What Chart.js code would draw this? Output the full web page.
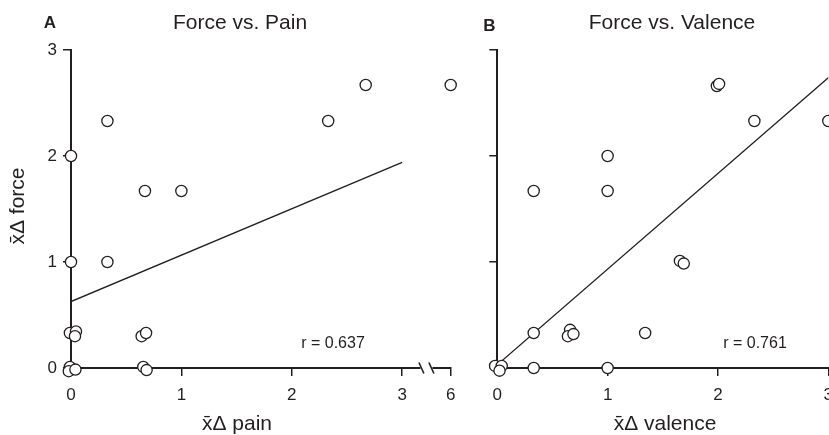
<!DOCTYPE html>
<html>
<head>
<meta charset="utf-8">
<script src="https://cdn.jsdelivr.net/npm/chart.js@4/dist/chart.umd.min.js"></script>
<style>
  html, body { margin: 0; padding: 0; background: #fff; overflow: hidden; width: 829px; height: 435px; }
  #painChart { position: absolute; left: 0; top: 0; }
  #valenceChart { position: absolute; left: 470px; top: 0; }
</style>
</head>
<body>
<canvas id="painChart" width="470" height="435"></canvas>
<canvas id="valenceChart" width="400" height="435"></canvas>
<script>
// Panel A: mean change in pain vs mean change in force (one point per subject)
const painX      = [2.67, 6,    2.33, 0.33, 0, 0.67, 1,    0, 0.33, -0.01, 0.045, 0.036, 0.64, 0.68, -0.01, -0.02, 0.04,  0.655, 0.685];
const painForceY = [2.67, 2.67, 2.33, 2.33, 2, 1.67, 1.67, 1, 1,    0.33,  0.345, 0.30,  0.30, 0.33, 0.01,  -0.03, -0.015, 0.01, -0.02];
const painFitX = [0, 3];
const painFitY = [0.627, 1.94];
const painTickValues = [0, 1, 2, 3, 6];
const painR = 'r = 0.637';

// Panel B: mean change in valence vs mean change in force
const valenceX      = [1.99, 2.01, 2.33, 3,    1, 0.33, 1,    1.655, 1.69,  0.33, 0.66, 0.64, 0.69, 1.34, -0.02, 0.04, 0.02,  0.33, 1];
const valenceForceY = [2.66, 2.68, 2.33, 2.33, 2, 1.67, 1.67, 1.01,  0.985, 0.33, 0.36, 0.30, 0.32, 0.33, 0.02,  0.02, -0.025, 0,   0];
const valenceFitX = [0, 3.2];
const valenceFitY = [0.03, 2.92];
const valenceTickValues = [0, 1, 2, 3];
const valenceR = 'r = 0.761';

const forceTicks = [0, 1, 2, 3];

const INK = '#231f20';
Chart.defaults.font.family = '"Liberation Sans", Arial, Helvetica, sans-serif';
Chart.defaults.color = INK;

// x axis of panel A is broken after 3; the value 6 sits just past the break
const BREAK_AT = 3;
const BREAK_END = 3.44;
function brokenX(v) {
    return v <= BREAK_AT ? v : BREAK_AT + (v - BREAK_AT) * (BREAK_END - BREAK_AT) / 3;
}

function points(xs, ys, mapX) {
    return xs.map((x, i) => ({ x: mapX ? mapX(x) : x, y: ys[i] }));
}

function pointSet(data) {
    return {
        data: data,
        pointRadius: 5.6,
        pointHoverRadius: 5.6,
        pointBorderWidth: 1.3,
        pointBorderColor: INK,
        pointBackgroundColor: '#fff',
        showLine: false,
        clip: false,
        order: 1
    };
}

function fitSet(data) {
    return {
        data: data,
        showLine: true,
        pointRadius: 0,
        borderColor: INK,
        borderWidth: 1.3,
        fill: false,
        order: 2
    };
}

function axis(extra) {
    return Object.assign({
        type: 'linear',
        grid: { drawOnChartArea: false, drawTicks: true, tickLength: 8, color: INK, lineWidth: 1.5 },
        border: { display: true, color: INK, width: 2 }
    }, extra);
}

// letters, titles, axis titles and r values
function labels(cfg) {
    return {
        id: 'labels',
        afterDraw(chart) {
            const ctx = chart.ctx;
            ctx.save();
            ctx.fillStyle = INK;
            ctx.textAlign = 'center';
            ctx.textBaseline = 'middle';
            ctx.font = 'bold 17px "Liberation Sans", Arial, sans-serif';
            ctx.fillText(cfg.letter[0], cfg.letter[1], cfg.letter[2]);
            ctx.font = '21px "Liberation Sans", Arial, sans-serif';
            ctx.fillText(cfg.title[0], cfg.title[1], cfg.title[2]);
            ctx.fillText(cfg.xTitle[0], cfg.xTitle[1], cfg.xTitle[2]);
            if (cfg.yTitle) {
                ctx.save();
                ctx.translate(cfg.yTitle[1], cfg.yTitle[2]);
                ctx.rotate(-Math.PI / 2);
                ctx.fillText(cfg.yTitle[0], 0, 0);
                ctx.restore();
            }
            ctx.font = '16px "Liberation Sans", Arial, sans-serif';
            ctx.fillText(cfg.r[0], cfg.r[1], cfg.r[2]);

            if (cfg.axisBreak) {
                const xs = chart.scales.x;
                const y0 = chart.scales.y.getPixelForValue(0);
                const mid = (xs.getPixelForValue(BREAK_AT) + xs.getPixelForValue(BREAK_END)) / 2;
                ctx.fillStyle = '#fff';
                ctx.fillRect(mid - 6, y0 - 3, 12, 6);
                ctx.strokeStyle = INK;
                ctx.lineWidth = 1.6;
                [-5, 5].forEach(dx => {
                    ctx.beginPath();
                    ctx.moveTo(mid + dx - 2.5, y0 - 5.5);
                    ctx.lineTo(mid + dx + 2.5, y0 + 5.5);
                    ctx.stroke();
                });
            }
            ctx.restore();
        }
    };
}

new Chart(document.getElementById('painChart'), {
    type: 'scatter',
    data: {
        datasets: [
            pointSet(points(painX, painForceY, brokenX)),
            fitSet(points(painFitX, painFitY))
        ]
    },
    options: {
        responsive: false,
        animation: false,
        layout: { padding: { left: 0, right: 19.3, top: 50, bottom: 0 } },
        plugins: { legend: { display: false }, tooltip: { enabled: false } },
        scales: {
            x: axis({
                min: 0, max: BREAK_END,
                afterBuildTicks: s => { s.ticks = painTickValues.map(v => ({ value: brokenX(v) })); },
                afterFit: s => { s.height = 67; },
                ticks: { font: { size: 17 }, padding: 9, autoSkip: false, maxRotation: 0,
                         callback: (v, i) => String(painTickValues[i]) }
            }),
            y: axis({
                min: 0, max: 3,
                afterBuildTicks: s => { s.ticks = forceTicks.map(v => ({ value: v })); },
                afterFit: s => { s.width = 71; },
                ticks: { font: { size: 17 }, padding: 6 }
            })
        }
    },
    plugins: [labels({
        letter: ['A', 50, 23],
        title: ['Force vs. Pain', 240, 23],
        xTitle: ['x\u0304\u0394 pain', 237, 424],
        yTitle: ['x\u0304\u0394 force', 18, 206],
        r: [painR, 333, 344],
        axisBreak: true
    })]
});

new Chart(document.getElementById('valenceChart'), {
    type: 'scatter',
    data: {
        datasets: [
            pointSet(points(valenceX, valenceForceY)),
            fitSet(points(valenceFitX, valenceFitY))
        ]
    },
    options: {
        responsive: false,
        animation: false,
        layout: { padding: { left: 0, right: 41.7, top: 50, bottom: 0 } },
        plugins: { legend: { display: false }, tooltip: { enabled: false } },
        scales: {
            x: axis({
                min: 0, max: 3,
                afterBuildTicks: s => { s.ticks = valenceTickValues.map(v => ({ value: v })); },
                afterFit: s => { s.height = 67; },
                ticks: { font: { size: 17 }, padding: 9, autoSkip: false, maxRotation: 0 }
            }),
            y: axis({
                min: 0, max: 3,
                afterBuildTicks: s => { s.ticks = forceTicks.map(v => ({ value: v })); },
                afterFit: s => { s.width = 27.3; },
                ticks: { display: false }
            })
        }
    },
    plugins: [labels({
        letter: ['B', 19.5, 26],
        title: ['Force vs. Valence', 202, 23],
        xTitle: ['x\u0304\u0394 valence', 195, 424],
        r: [valenceR, 285, 344]
    })]
});
</script>
</body>
</html>
